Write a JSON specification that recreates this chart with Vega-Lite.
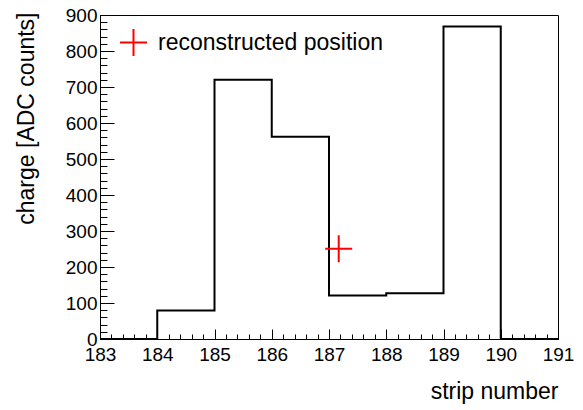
{
  "$schema": "https://vega.github.io/schema/vega-lite/v6.json",
  "width": 458,
  "height": 324,
  "autosize": {"type": "none"},
  "padding": {"left": 100, "top": 15, "right": 25, "bottom": 71},
  "config": {
    "view": {"stroke": "black", "strokeWidth": 1},
    "font": "Liberation Sans",
    "axis": {"grid": false, "domainColor": "black", "tickColor": "black", "labelColor": "black", "titleColor": "black", "titleFontWeight": "normal"}
  },
  "datasets": {
    "hist": [
      {"strip": 183, "charge": 0},
      {"strip": 184, "charge": 79},
      {"strip": 185, "charge": 720},
      {"strip": 186, "charge": 562},
      {"strip": 187, "charge": 121},
      {"strip": 188, "charge": 127},
      {"strip": 189, "charge": 868},
      {"strip": 190, "charge": 0},
      {"strip": 191, "charge": 0}
    ],
    "reco": [
      {"strip": 187.17, "charge": 251, "label": "reconstructed position"}
    ]
  },
  "layer": [
    {
      "data": {"name": "hist"},
      "mark": {"type": "line", "interpolate": "step-after", "color": "black", "strokeWidth": 2},
      "encoding": {
        "x": {
          "field": "strip", "type": "quantitative",
          "scale": {"domain": [183, 191], "nice": false, "zero": false},
          "axis": {
            "orient": "bottom",
            "values": [183, 184, 185, 186, 187, 188, 189, 190, 191],
            "format": "d",
            "tickSize": -10, "tickWidth": 1, "domainWidth": 1,
            "labelFontSize": 19, "labelPadding": 16, "labelFlush": false, "labelOverlap": false,
            "title": "strip number", "titleFontSize": 23,
            "titleAnchor": "end", "titleAlign": "right", "titleBaseline": "alphabetic",
            "titleX": 458, "titleY": 59
          }
        },
        "y": {
          "field": "charge", "type": "quantitative",
          "scale": {"domain": [0, 900], "nice": false},
          "axis": {
            "orient": "left",
            "values": [0, 100, 200, 300, 400, 500, 600, 700, 800, 900],
            "tickSize": -14, "tickWidth": 1, "domainWidth": 1,
            "labelFontSize": 19, "labelPadding": 17, "labelFlush": false, "labelOverlap": false,
            "title": "charge [ADC counts]", "titleFontSize": 23,
            "titleAngle": 270, "titleAnchor": "end", "titleAlign": "right", "titleBaseline": "alphabetic",
            "titleX": -67, "titleY": -3
          }
        }
      }
    },
    {
      "data": {"name": "reco"},
      "mark": {"type": "point", "shape": "M-1,0H1M0,-1V1", "filled": false, "strokeWidth": 2, "size": 729, "opacity": 1},
      "encoding": {
        "x": {
          "field": "strip", "type": "quantitative",
          "scale": {"domain": [183, 191], "nice": false, "zero": false},
          "axis": {
            "orient": "bottom",
            "values": [183.2, 183.4, 183.6, 183.8, 184.2, 184.4, 184.6, 184.8, 185.2, 185.4, 185.6, 185.8, 186.2, 186.4, 186.6, 186.8, 187.2, 187.4, 187.6, 187.8, 188.2, 188.4, 188.6, 188.8, 189.2, 189.4, 189.6, 189.8, 190.2, 190.4, 190.6, 190.8],
            "tickSize": -5, "tickWidth": 1, "domain": false, "labels": false, "title": null
          }
        },
        "y": {
          "field": "charge", "type": "quantitative",
          "scale": {"domain": [0, 900], "nice": false},
          "axis": {
            "orient": "left",
            "values": [20, 40, 60, 80, 120, 140, 160, 180, 220, 240, 260, 280, 320, 340, 360, 380, 420, 440, 460, 480, 520, 540, 560, 580, 620, 640, 660, 680, 720, 740, 760, 780, 820, 840, 860, 880],
            "tickSize": -7, "tickWidth": 1, "domain": false, "labels": false, "title": null
          }
        },
        "color": {
          "field": "label", "type": "nominal",
          "scale": {"range": ["#ff0000"]},
          "legend": {
            "orient": "none", "legendX": 19, "legendY": 13, "padding": 0, "title": null,
            "symbolType": "M-1,0H1M0,-1V1", "symbolSize": 729, "symbolStrokeWidth": 2,
            "labelFontSize": 23, "labelColor": "black", "labelOffset": 10, "labelLimit": 400
          }
        }
      }
    }
  ],
  "resolve": {"axis": {"x": "independent", "y": "independent"}}
}
